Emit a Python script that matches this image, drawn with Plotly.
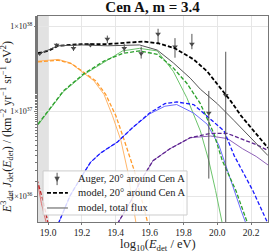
import plotly.graph_objects as go

# ---- Auger data (log10 values) ----
auger_logE = [18.95, 19.05, 19.15, 19.25, 19.35, 19.45, 19.55, 19.65, 19.75, 19.85, 19.95, 20.05]
auger_logF = [37.68, 37.78, 37.74, 37.78, 37.85, 37.74, 37.68, 37.91, 37.76, 37.79, 36.98, 37.19]
auger_up   = [37.70, 37.80, 37.77, 37.80, 37.89, 37.79, 37.76, 37.97, 37.86, 37.91, 37.24, 37.70]
auger_lo   = [37.66, 37.76, 37.71, 37.76, 37.80, 37.69, 37.62, 37.80, 37.63, 37.73, 36.21, 30.00]

# ---- model, 20 deg around Cen A (black dashed) ----
m20_logE = [18.94, 19.00, 19.06, 19.20, 19.35, 19.50, 19.56, 19.65, 19.75, 19.86, 19.94, 20.02, 20.08, 20.14, 20.20, 20.30]
m20_logF = [37.684, 37.71, 37.77, 37.79, 37.79, 37.81, 37.82, 37.80, 37.74, 37.61, 37.47, 37.27, 37.12, 36.95, 36.81, 36.57]

# ---- model, total flux (gray solid) ----
tot_logE = [18.94, 19.06, 19.20, 19.35, 19.54, 19.645, 19.74, 19.84, 19.90, 20.00, 20.10, 20.20, 20.30]
tot_logF = [37.67, 37.77, 37.78, 37.77, 37.78, 37.72, 37.57, 37.39, 37.26, 37.09, 36.89, 36.68, 36.48]

# ---- components (dashed: 20 deg around Cen A, solid: total flux) ----
red_d_logE = [18.90, 18.94, 18.97, 19.00]
red_d_logF = [36.40, 36.16, 35.95, 35.68]
red_s_logE = [18.90, 18.94, 18.96, 18.99]
red_s_logF = [36.38, 36.13, 35.92, 35.68]

ora_s_logE = [18.94, 19.06, 19.13, 19.21, 19.27, 19.33, 19.38, 19.43, 19.47, 19.52]
ora_s_logF = [37.59, 37.61, 37.57, 37.45, 37.36, 37.20, 36.95, 36.66, 36.30, 35.68]
ora_d_logE = [18.94, 19.06, 19.14, 19.22, 19.28, 19.34, 19.40, 19.45, 19.51, 19.59]
ora_d_logF = [37.58, 37.60, 37.56, 37.45, 37.36, 37.20, 36.95, 36.66, 36.30, 35.68]

grn_d_logE = [18.94, 19.00, 19.09, 19.21, 19.33, 19.44, 19.54, 19.645, 19.74, 19.82, 19.90, 19.98, 20.03, 20.11, 20.18]
grn_d_logF = [36.85, 37.01, 37.24, 37.44, 37.59, 37.68, 37.71, 37.67, 37.51, 37.33, 37.09, 36.74, 36.42, 36.07, 35.68]
grn_s_logE = [18.94, 19.09, 19.21, 19.33, 19.44, 19.54, 19.645, 19.74, 19.82, 19.90, 19.95, 19.99, 20.03]
grn_s_logF = [36.84, 37.23, 37.43, 37.58, 37.71, 37.74, 37.71, 37.47, 37.16, 36.77, 36.42, 36.07, 35.68]

blu_d_logE = [19.06, 19.13, 19.19, 19.25, 19.31, 19.41, 19.50, 19.60, 19.69, 19.76, 19.86, 19.96, 20.04, 20.10, 20.15, 20.21, 20.30]
blu_d_logF = [35.68, 36.01, 36.21, 36.40, 36.51, 36.64, 36.81, 36.98, 37.09, 37.11, 37.08, 36.91, 36.77, 36.48, 36.30, 36.07, 35.68]
blu_s_logE = [19.06, 19.13, 19.19, 19.25, 19.31, 19.41, 19.50, 19.60, 19.69, 19.76, 19.86, 19.94, 20.01, 20.06, 20.14, 20.17]
blu_s_logF = [35.68, 36.01, 36.21, 36.40, 36.51, 36.64, 36.81, 36.97, 37.06, 37.08, 36.98, 36.85, 36.60, 36.30, 35.84, 35.68]

pur_d_logE = [19.41, 19.49, 19.54, 19.62, 19.72, 19.84, 19.96, 20.06, 20.15, 20.23, 20.30]
pur_d_logF = [35.68, 35.95, 36.16, 36.42, 36.56, 36.69, 36.74, 36.74, 36.67, 36.61, 36.54]
pur_s_logE = [19.41, 19.49, 19.54, 19.62, 19.72, 19.84, 19.96, 20.06, 20.15, 20.23, 20.30]
pur_s_logF = [35.68, 35.95, 36.16, 36.42, 36.56, 36.69, 36.71, 36.68, 36.56, 36.47, 36.37]

legend_labels = ["Auger, 20° around Cen A", "model, 20° around Cen A", "model, total flux"]
x_ticks = [19.0, 19.2, 19.4, 19.6, 19.8, 20.0, 20.2]
x_title = "log<sub>10</sub>(<i>E</i><sub>det</sub> / eV)"
y_title = ("<i>E</i><sup>3</sup><sub>det</sub> <i>J</i><sub>det</sub>(<i>E</i><sub>det</sub>) / "
           "(km<sup>−2</sup> yr<sup>−1</sup> sr<sup>−1</sup> eV<sup>2</sup>)")

FONT = "Liberation Serif"
p = lambda a: [10 ** v for v in a]

fig = go.Figure()

def comp(xs, ys, color, dash, width):
    fig.add_trace(go.Scatter(x=xs, y=p(ys), mode="lines", showlegend=False,
                             line=dict(color=color, width=width, dash=dash)))

# solid (total flux) components, lighter
comp(red_s_logE, red_s_logF, "#e07070", "solid", 1.0)
comp(ora_s_logE, ora_s_logF, "#ffb66a", "solid", 1.0)
comp(grn_s_logE, grn_s_logF, "#6cc46c", "solid", 1.0)
comp(blu_s_logE, blu_s_logF, "#6a6aff", "solid", 1.0)
comp(pur_s_logE, pur_s_logF, "#8f62b8", "solid", 1.0)
# dashed (20 deg) components
comp(red_d_logE, red_d_logF, "#c0282a", "4px,2px", 1.3)
comp(ora_d_logE, ora_d_logF, "#ff9a2a", "4px,2px", 1.3)
comp(grn_d_logE, grn_d_logF, "#2ca02c", "4px,2px", 1.3)
comp(blu_d_logE, blu_d_logF, "#1a1aff", "4px,2px", 1.3)
comp(pur_d_logE, pur_d_logF, "#5e2490", "4px,2px", 1.3)

# data
yv = p(auger_logF)
eu = [10 ** u - v for u, v in zip(auger_up, yv)]
el = [v - 10 ** l for l, v in zip(auger_lo, yv)]
fig.add_trace(go.Scatter(x=auger_logE, y=yv, mode="markers", name=legend_labels[0], showlegend=False,
                         marker=dict(symbol="triangle-down", size=5, color="#4a4a4a"),
                         error_y=dict(type="data", array=eu, arrayminus=el, symmetric=False,
                                      color="#555555", thickness=1, width=0)))
fig.add_trace(go.Scatter(x=m20_logE, y=p(m20_logF), mode="lines", name=legend_labels[1], showlegend=False,
                         line=dict(color="black", width=1.8, dash="4px,2px")))
fig.add_trace(go.Scatter(x=tot_logE, y=p(tot_logF), mode="lines", name=legend_labels[2], showlegend=False,
                         line=dict(color="#555555", width=1)))

# shaded region
fig.add_shape(type="rect", xref="x", yref="paper", x0=18.9, x1=19.0, y0=0, y1=1,
              fillcolor="#e2e2e2", line_width=0, layer="below")

# ---- hand-placed legend (paper coordinates) ----
fig.add_shape(type="rect", xref="paper", yref="paper", x0=0.022, x1=0.648, y0=0.034, y1=0.248,
              fillcolor="rgba(255,255,255,0.82)", line=dict(color="#cccccc", width=1))
ly = [0.209, 0.141, 0.068]
fig.add_shape(type="line", xref="paper", yref="paper", x0=0.083, x1=0.083, y0=ly[0] - 0.03, y1=ly[0] + 0.03,
              line=dict(color="#555555", width=1))
fig.add_shape(type="path", xref="paper", yref="paper",
              path=f"M 0.073 {ly[0] + 0.010} L 0.093 {ly[0] + 0.010} L 0.083 {ly[0] - 0.012} Z",
              fillcolor="#4a4a4a", line=dict(color="#4a4a4a", width=0.5))
fig.add_shape(type="line", xref="paper", yref="paper", x0=0.039, x1=0.130, y0=ly[1], y1=ly[1],
              line=dict(color="black", width=1.8, dash="4px,2px"))
fig.add_shape(type="line", xref="paper", yref="paper", x0=0.039, x1=0.130, y0=ly[2], y1=ly[2],
              line=dict(color="#555555", width=1))
for yy, txt in zip(ly, legend_labels):
    fig.add_annotation(xref="paper", yref="paper", x=0.165, y=yy, text=txt, showarrow=False,
                       xanchor="left", yanchor="middle",
                       font=dict(family=FONT, size=10.5, color="#222"))

# axis titles as annotations (precise placement)
fig.add_annotation(xref="paper", yref="paper", x=0.52, y=-0.112, text=x_title, showarrow=False,
                   xanchor="center", yanchor="middle", font=dict(family=FONT, size=12.5, color="#222"))
fig.add_annotation(xref="paper", yref="paper", x=-0.135, y=0.46, text=y_title, showarrow=False,
                   textangle=-90, xanchor="center", yanchor="middle",
                   font=dict(family=FONT, size=12, color="#222"))

fig.update_layout(
    width=270, height=252,
    margin=dict(l=38, r=2, t=16, b=30, autoexpand=False),
    paper_bgcolor="white", plot_bgcolor="white",
    font=dict(family=FONT, size=10, color="#222"),
    title=dict(text="<b>Cen A, m = 3.4</b>", x=0.565, xanchor="center", y=0.995, yanchor="top",
               font=dict(family=FONT, size=15, color="#111")),
    showlegend=False,
)
fig.update_xaxes(range=[18.94, 20.30], tickvals=x_ticks,
                 ticktext=[f"{t:.1f}" for t in x_ticks], automargin=False,
                 showgrid=True, gridcolor="#e6e6e6", gridwidth=1, zeroline=False,
                 showline=True, linecolor="#777", linewidth=1, mirror=True,
                 ticks="outside", ticklen=2, tickcolor="#777",
                 tickfont=dict(family=FONT, size=9.5, color="#222"))
fig.update_yaxes(type="log", range=[35.70, 38.12], tickvals=[1e36, 1e37, 1e38], automargin=False,
                 exponentformat="power", showgrid=True, gridcolor="#e6e6e6", gridwidth=1,
                 zeroline=False, showline=True, linecolor="#777", linewidth=1, mirror=True,
                 ticks="outside", ticklen=3, tickcolor="#777",
                 minor=dict(ticks="outside", ticklen=2, tickcolor="#777", showgrid=False),
                 tickfont=dict(family=FONT, size=8, color="#222"))

fig.write_html("out.html", config={"displayModeBar": False},
               post_script="document.body.style.margin='0';document.body.style.padding='0';")
